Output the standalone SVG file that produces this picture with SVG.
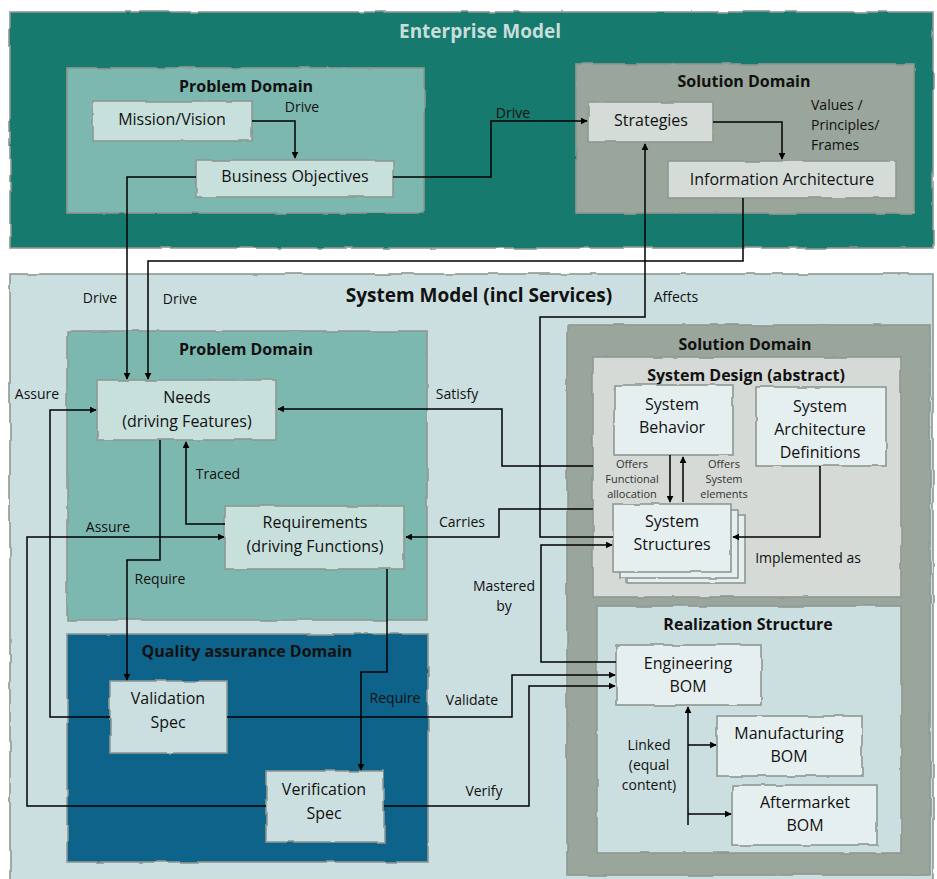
<svg xmlns="http://www.w3.org/2000/svg" width="937" height="879" viewBox="0 0 937 879">
  <defs>
    <filter id="rough" x="-2%" y="-2%" width="104%" height="104%">
      <feTurbulence type="fractalNoise" baseFrequency="0.035" numOctaves="2" seed="3"/>
      <feDisplacementMap in="SourceGraphic" scale="3"/>
    </filter>
    <marker id="ah" viewBox="0 0 10 10" refX="9" refY="5" markerWidth="7" markerHeight="7" markerUnits="userSpaceOnUse" orient="auto">
      <path d="M0,0 L10,5 L0,10 z" fill="#000"/>
    </marker>
  </defs>
  <style>
    text { font-family: "Open Sans", "Liberation Sans", sans-serif; text-anchor: middle; fill: #111; }
    .frame { stroke: #8e9892; stroke-width: 1.6; filter: url(#rough); }
    .ent { fill: #177a6e; }
    .prob { fill: #7db8b0; }
    .sol { fill: #9aa59b; }
    .sys { fill: #cbdfe0; }
    .qa { fill: #0a6389; }
    .design { fill: #d5dad6; }
    .pbox { fill: #c8e0dc; }
    .sbox { fill: #d5dcd8; }
    .lbox { fill: #e6eff0; }
    .title { font-weight: bold; font-size: 16px; }
    .big { font-weight: bold; font-size: 19px; }
    .node { font-size: 16px; }
    .lab { font-size: 14px; }
    .tiny { font-size: 11px; fill: #333; }
    .conn path { fill: none; stroke: #000; stroke-width: 1.5; }
    .conn .arr { marker-end: url(#ah); }
  </style>

  <!-- Enterprise level -->
  <g id="enterprise-model">
    <rect class="frame ent" x="10" y="12" width="923" height="236"/>
    <text class="big" x="480" y="38" style="fill:#c9ddda">Enterprise Model</text>
  </g>
  <g id="ent-problem-domain">
    <rect class="frame prob" x="67" y="68" width="357" height="145"/>
    <text class="title" x="246" y="92">Problem Domain</text>
  </g>
  <g id="mission-vision">
    <rect class="frame pbox" x="93" y="101" width="159" height="40"/>
    <text class="node" x="172" y="125">Mission/Vision</text>
  </g>
  <g id="business-objectives">
    <rect class="frame pbox" x="196" y="160" width="197" height="37"/>
    <text class="node" x="295" y="182">Business Objectives</text>
  </g>
  <g id="ent-solution-domain">
    <rect class="frame sol" x="576" y="64" width="338" height="149"/>
    <text class="title" x="744" y="87">Solution Domain</text>
    <text class="lab" x="811" y="110" style="text-anchor:start">Values /</text>
    <text class="lab" x="811" y="130" style="text-anchor:start">Principles/</text>
    <text class="lab" x="811" y="150" style="text-anchor:start">Frames</text>
  </g>
  <g id="strategies">
    <rect class="frame sbox" x="588" y="102" width="125" height="40"/>
    <text class="node" x="651" y="126">Strategies</text>
  </g>
  <g id="information-architecture">
    <rect class="frame sbox" x="668" y="161" width="228" height="37"/>
    <text class="node" x="782" y="185">Information Architecture</text>
  </g>

  <!-- System level -->
  <g id="system-model">
    <rect class="frame sys" x="10" y="274" width="923" height="610"/>
    <text class="big" x="479" y="302" style="fill:#111">System Model (incl Services)</text>
  </g>
  <g id="sys-problem-domain">
    <rect class="frame prob" x="67" y="331" width="360" height="289"/>
    <text class="title" x="246" y="355">Problem Domain</text>
  </g>
  <g id="qa-domain">
    <rect class="frame qa" x="67" y="634" width="361" height="228"/>
    <text class="title" x="247" y="657">Quality assurance Domain</text>
  </g>
  <g id="needs">
    <rect class="frame pbox" x="97" y="380" width="179" height="60"/>
    <text class="node" x="187" y="403">Needs</text>
    <text class="node" x="187" y="427">(driving Features)</text>
  </g>
  <g id="requirements">
    <rect class="frame pbox" x="225" y="506" width="179" height="63"/>
    <text class="node" x="315" y="528">Requirements</text>
    <text class="node" x="315" y="552">(driving Functions)</text>
  </g>
  <g id="validation-spec">
    <rect class="frame sys" x="110" y="681" width="117" height="72"/>
    <text class="node" x="168" y="704">Validation</text>
    <text class="node" x="168" y="728">Spec</text>
  </g>
  <g id="verification-spec">
    <rect class="frame sys" x="266" y="771" width="118" height="71"/>
    <text class="node" x="324" y="795">Verification</text>
    <text class="node" x="324" y="819">Spec</text>
  </g>

  <g id="sys-solution-domain">
    <rect class="frame sol" x="567" y="325" width="363" height="550"/>
    <text class="title" x="745" y="350">Solution Domain</text>
  </g>
  <g id="system-design">
    <rect class="frame design" x="593" y="357" width="308" height="240"/>
    <text class="title" x="746" y="381">System Design (abstract)</text>
  </g>
  <g id="system-behavior">
    <rect class="frame lbox" x="614" y="385" width="119" height="70"/>
    <text class="node" x="672" y="410">System</text>
    <text class="node" x="672" y="433">Behavior</text>
  </g>
  <g id="system-architecture-definitions">
    <rect class="frame lbox" x="756" y="387" width="130" height="79"/>
    <text class="node" x="820" y="412">System</text>
    <text class="node" x="820" y="435">Architecture</text>
    <text class="node" x="820" y="458">Definitions</text>
  </g>
  <g id="system-structures">
    <rect class="frame lbox" x="627" y="515" width="118" height="68"/>
    <rect class="frame lbox" x="620" y="510" width="118" height="68"/>
    <rect class="frame lbox" x="613" y="504" width="118" height="68"/>
    <text class="node" x="672" y="527">System</text>
    <text class="node" x="672" y="550">Structures</text>
  </g>

  <g id="realization-structure">
    <rect class="frame sys" x="597" y="606" width="304" height="247"/>
    <text class="title" x="748" y="630">Realization Structure</text>
  </g>
  <g id="engineering-bom">
    <rect class="frame lbox" x="616" y="645" width="145" height="60"/>
    <text class="node" x="688" y="669">Engineering</text>
    <text class="node" x="688" y="692">BOM</text>
  </g>
  <g id="manufacturing-bom">
    <rect class="frame lbox" x="717" y="716" width="145" height="60"/>
    <text class="node" x="789" y="739">Manufacturing</text>
    <text class="node" x="789" y="762">BOM</text>
  </g>
  <g id="aftermarket-bom">
    <rect class="frame lbox" x="732" y="785" width="145" height="60"/>
    <text class="node" x="805" y="808">Aftermarket</text>
    <text class="node" x="805" y="831">BOM</text>
  </g>

  <!-- Connectors -->
  <g id="connectors" class="conn">
    <path class="arr" d="M252,121 H295 V158"/>
    <path class="arr" d="M393,177 H491 V121 H587"/>
    <path class="arr" d="M713,122 H782 V159"/>
    <path class="arr" d="M196,177 H127 V379"/>
    <path class="arr" d="M743,198 V261 H148 V379"/>
    <path class="arr" d="M613,537 H540 V317 H645 V144"/>
    <path class="arr" d="M593,466 H502 V409 H278"/>
    <path class="arr" d="M593,509 H499 V537 H406"/>
    <path class="arr" d="M225,524 H186 V442"/>
    <path class="arr" d="M110,717 H50 V410 H96"/>
    <path class="arr" d="M266,806 H27 V537 H224"/>
    <path class="arr" d="M160,440 V560 H127 V680"/>
    <path class="arr" d="M387,569 V672 H361 V770"/>
    <path class="arr" d="M670,455 V502"/>
    <path class="arr" d="M683,502 V457"/>
    <path class="arr" d="M820,466 V537 H733"/>
    <path class="arr" d="M616,662 H541 V545 H612"/>
    <path class="arr" d="M227,717 H512 V675 H615"/>
    <path class="arr" d="M384,806 H529 V686 H615"/>
    <path class="arr" d="M688,825 V707"/>
    <path class="arr" d="M688,745 H716"/>
    <path class="arr" d="M688,814 H731"/>

    <text class="lab" x="302" y="112">Drive</text>
    <text class="lab" x="513" y="118">Drive</text>
    <text class="lab" x="100" y="303">Drive</text>
    <text class="lab" x="180" y="304">Drive</text>
    <text class="lab" x="676" y="302">Affects</text>
    <text class="lab" x="37" y="399">Assure</text>
    <text class="lab" x="457" y="399">Satisfy</text>
    <text class="lab" x="218" y="479">Traced</text>
    <text class="lab" x="108" y="532">Assure</text>
    <text class="lab" x="462" y="527">Carries</text>
    <text class="lab" x="160" y="584">Require</text>
    <text class="lab" x="504" y="591">Mastered</text>
    <text class="lab" x="504" y="611">by</text>
    <text class="lab" x="808" y="563">Implemented as</text>
    <text class="lab" x="395" y="703">Require</text>
    <text class="lab" x="472" y="705">Validate</text>
    <text class="lab" x="484" y="796">Verify</text>
    <text class="lab" x="649" y="750">Linked</text>
    <text class="lab" x="649" y="770">(equal</text>
    <text class="lab" x="649" y="790">content)</text>
    <text class="tiny" x="632" y="468">Offers</text>
    <text class="tiny" x="632" y="483">Functional</text>
    <text class="tiny" x="632" y="498">allocation</text>
    <text class="tiny" x="724" y="468">Offers</text>
    <text class="tiny" x="724" y="483">System</text>
    <text class="tiny" x="724" y="498">elements</text>
  </g>
</svg>
